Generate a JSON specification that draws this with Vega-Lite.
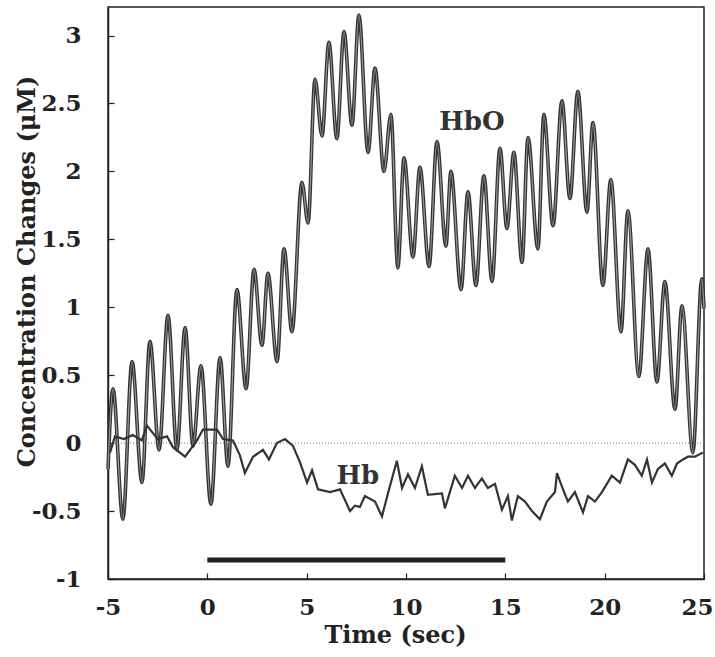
{
  "$schema": "https://vega.github.io/schema/vega-lite/v6.json",
  "width": 596,
  "height": 572,
  "autosize": {"type": "none"},
  "padding": {"left": 108, "top": 7, "right": 11, "bottom": 78},
  "background": "#ffffff",
  "config": {
    "view": {"stroke": "#222", "strokeWidth": 1.5},
    "font": "DejaVu Serif"
  },
  "datasets": {
    "hbo": [
      {"t": -5.0, "v": -0.19}, {"t": -4.75, "v": 0.40}, {"t": -4.25, "v": -0.56}, {"t": -3.79, "v": 0.60},
      {"t": -3.29, "v": -0.29}, {"t": -2.89, "v": 0.75}, {"t": -2.43, "v": -0.05}, {"t": -1.98, "v": 0.94},
      {"t": -1.53, "v": -0.05}, {"t": -1.12, "v": 0.85}, {"t": -0.72, "v": -0.02}, {"t": -0.32, "v": 0.57},
      {"t": 0.18, "v": -0.45}, {"t": 0.64, "v": 0.63}, {"t": 1.04, "v": -0.17}, {"t": 1.49, "v": 1.13},
      {"t": 1.95, "v": 0.40}, {"t": 2.35, "v": 1.28}, {"t": 2.75, "v": 0.72}, {"t": 3.05, "v": 1.25},
      {"t": 3.51, "v": 0.60}, {"t": 3.86, "v": 1.43}, {"t": 4.26, "v": 0.82}, {"t": 4.76, "v": 1.92},
      {"t": 5.07, "v": 1.62}, {"t": 5.42, "v": 2.68}, {"t": 5.77, "v": 2.26}, {"t": 6.12, "v": 2.95},
      {"t": 6.52, "v": 2.24}, {"t": 6.88, "v": 3.03}, {"t": 7.28, "v": 2.34}, {"t": 7.63, "v": 3.15},
      {"t": 8.09, "v": 2.14}, {"t": 8.44, "v": 2.76}, {"t": 8.89, "v": 2.00}, {"t": 9.24, "v": 2.42},
      {"t": 9.59, "v": 1.29}, {"t": 9.90, "v": 2.10}, {"t": 10.35, "v": 1.37}, {"t": 10.70, "v": 2.03},
      {"t": 11.16, "v": 1.30}, {"t": 11.56, "v": 2.22}, {"t": 12.01, "v": 1.45}, {"t": 12.26, "v": 2.00},
      {"t": 12.77, "v": 1.13}, {"t": 13.12, "v": 1.85}, {"t": 13.52, "v": 1.16}, {"t": 13.92, "v": 1.97},
      {"t": 14.33, "v": 1.19}, {"t": 14.73, "v": 2.17}, {"t": 15.08, "v": 1.58}, {"t": 15.43, "v": 2.14},
      {"t": 15.84, "v": 1.33}, {"t": 16.14, "v": 2.25}, {"t": 16.64, "v": 1.43}, {"t": 16.94, "v": 2.42},
      {"t": 17.40, "v": 1.60}, {"t": 17.85, "v": 2.52}, {"t": 18.25, "v": 1.80}, {"t": 18.65, "v": 2.59},
      {"t": 19.11, "v": 1.70}, {"t": 19.41, "v": 2.36}, {"t": 19.91, "v": 1.16}, {"t": 20.31, "v": 1.94},
      {"t": 20.82, "v": 0.82}, {"t": 21.17, "v": 1.71}, {"t": 21.72, "v": 0.49}, {"t": 22.18, "v": 1.43},
      {"t": 22.63, "v": 0.45}, {"t": 23.03, "v": 1.19}, {"t": 23.54, "v": 0.25}, {"t": 23.89, "v": 1.01},
      {"t": 24.44, "v": -0.07}, {"t": 24.89, "v": 1.21}, {"t": 25.0, "v": 0.99}
    ],
    "hb": [
      {"t": -4.9, "v": -0.07}, {"t": -4.65, "v": 0.05}, {"t": -4.2, "v": 0.03}, {"t": -3.75, "v": 0.06},
      {"t": -3.3, "v": 0.02}, {"t": -3.04, "v": 0.13}, {"t": -2.5, "v": 0.03}, {"t": -2.03, "v": 0.05},
      {"t": -1.73, "v": -0.03}, {"t": -1.12, "v": -0.10}, {"t": -0.52, "v": 0.02}, {"t": -0.22, "v": 0.10},
      {"t": 0.49, "v": 0.10}, {"t": 0.79, "v": 0.03}, {"t": 1.29, "v": 0.02}, {"t": 1.64, "v": -0.09},
      {"t": 1.89, "v": -0.22}, {"t": 2.3, "v": -0.10}, {"t": 2.8, "v": -0.05}, {"t": 3.1, "v": -0.12},
      {"t": 3.5, "v": 0.0}, {"t": 3.91, "v": 0.03}, {"t": 4.31, "v": -0.02}, {"t": 4.66, "v": -0.14},
      {"t": 5.02, "v": -0.29}, {"t": 5.27, "v": -0.20}, {"t": 5.57, "v": -0.34}, {"t": 6.17, "v": -0.36},
      {"t": 6.68, "v": -0.34}, {"t": 7.18, "v": -0.50}, {"t": 7.43, "v": -0.46}, {"t": 7.68, "v": -0.47},
      {"t": 7.93, "v": -0.39}, {"t": 8.44, "v": -0.43}, {"t": 8.79, "v": -0.54}, {"t": 9.09, "v": -0.37},
      {"t": 9.54, "v": -0.13}, {"t": 9.80, "v": -0.33}, {"t": 10.10, "v": -0.23}, {"t": 10.45, "v": -0.33},
      {"t": 10.80, "v": -0.17}, {"t": 11.10, "v": -0.38}, {"t": 11.81, "v": -0.37}, {"t": 11.96, "v": -0.48},
      {"t": 12.46, "v": -0.24}, {"t": 12.82, "v": -0.33}, {"t": 13.12, "v": -0.24}, {"t": 13.47, "v": -0.33},
      {"t": 13.82, "v": -0.26}, {"t": 14.12, "v": -0.33}, {"t": 14.48, "v": -0.30}, {"t": 14.83, "v": -0.49},
      {"t": 15.13, "v": -0.39}, {"t": 15.33, "v": -0.57}, {"t": 15.63, "v": -0.39}, {"t": 15.99, "v": -0.43},
      {"t": 16.34, "v": -0.50}, {"t": 16.74, "v": -0.56}, {"t": 17.09, "v": -0.43}, {"t": 17.50, "v": -0.36},
      {"t": 17.60, "v": -0.22}, {"t": 17.85, "v": -0.32}, {"t": 18.15, "v": -0.43}, {"t": 18.50, "v": -0.36},
      {"t": 18.91, "v": -0.51}, {"t": 19.16, "v": -0.39}, {"t": 19.51, "v": -0.43}, {"t": 19.86, "v": -0.36},
      {"t": 20.36, "v": -0.24}, {"t": 20.77, "v": -0.29}, {"t": 21.17, "v": -0.12}, {"t": 21.52, "v": -0.16},
      {"t": 21.87, "v": -0.24}, {"t": 22.13, "v": -0.12}, {"t": 22.38, "v": -0.29}, {"t": 22.68, "v": -0.19},
      {"t": 23.03, "v": -0.15}, {"t": 23.38, "v": -0.24}, {"t": 23.64, "v": -0.15}, {"t": 23.94, "v": -0.12},
      {"t": 24.19, "v": -0.10}, {"t": 24.54, "v": -0.10}, {"t": 24.94, "v": -0.07}
    ],
    "zero": [{"v": 0}],
    "stim": [{"t0": 0, "t1": 15, "v": -0.86}],
    "labels": [
      {"name": "HbO", "t": 13.32, "v": 2.36},
      {"name": "Hb", "t": 7.58, "v": -0.24}
    ]
  },
  "layer": [
    {
      "data": {"name": "zero"},
      "mark": {"type": "rule", "color": "#777", "strokeWidth": 1, "strokeDash": [1, 2]},
      "encoding": {
        "y": {
          "field": "v", "type": "quantitative",
          "scale": {"domain": [-1, 3.21], "nice": false, "zero": false},
          "axis": {
            "values": [-1, -0.5, 0, 0.5, 1, 1.5, 2, 2.5, 3],
            "labelExpr": "'' + datum.value",
            "grid": false,
            "domainColor": "#222", "domainWidth": 1.5,
            "tickColor": "#222", "tickSize": -6, "tickWidth": 1.2,
            "labelPadding": 33,
            "labelFont": "DejaVu Serif", "labelFontWeight": "bold", "labelFontSize": 23, "labelColor": "#222",
            "title": "Concentration Changes (μM)",
            "titleFont": "DejaVu Serif", "titleFontWeight": "bold", "titleFontSize": 24, "titleColor": "#222",
            "titleAngle": -90, "titleX": -81, "titleY": 264, "titleAlign": "center", "titleBaseline": "middle"
          }
        }
      }
    },
    {
      "data": {"name": "stim"},
      "mark": {"type": "rule", "color": "#222", "strokeWidth": 5},
      "encoding": {
        "x": {"field": "t0", "type": "quantitative"},
        "x2": {"field": "t1"},
        "y": {"field": "v", "type": "quantitative"}
      }
    },
    {
      "data": {"name": "hbo"},
      "mark": {"type": "line", "color": "#333", "strokeWidth": 3.6, "interpolate": "monotone"},
      "encoding": {
        "x": {
          "field": "t", "type": "quantitative",
          "scale": {"domain": [-5, 25], "nice": false, "zero": false},
          "axis": {
            "values": [-5, 0, 5, 10, 15, 20, 25],
            "labelExpr": "'' + datum.value",
            "grid": false,
            "domainColor": "#222", "domainWidth": 1.5,
            "tickColor": "#222", "tickSize": -6, "tickWidth": 1.2,
            "labelPadding": 23,
            "labelFont": "DejaVu Serif", "labelFontWeight": "bold", "labelFontSize": 23, "labelColor": "#222",
            "labelFlush": false,
            "labelOffset": {"condition": {"test": "datum.value == 25", "value": -7}, "value": 0},
            "title": "Time (sec)",
            "titleFont": "DejaVu Serif", "titleFontWeight": "bold", "titleFontSize": 24, "titleColor": "#222",
            "titleX": 287, "titleY": 56, "titleAlign": "center", "titleBaseline": "middle"
          }
        },
        "y": {"field": "v", "type": "quantitative"}
      }
    },
    {
      "data": {"name": "hbo"},
      "mark": {"type": "line", "color": "#9a9a9a", "strokeWidth": 1.2, "interpolate": "monotone"},
      "encoding": {
        "x": {"field": "t", "type": "quantitative"},
        "y": {"field": "v", "type": "quantitative"}
      }
    },
    {
      "data": {"name": "hb"},
      "mark": {"type": "line", "color": "#333", "strokeWidth": 2.2},
      "encoding": {
        "x": {"field": "t", "type": "quantitative"},
        "y": {"field": "v", "type": "quantitative"}
      }
    },
    {
      "data": {"name": "labels"},
      "mark": {"type": "text", "font": "DejaVu Serif", "fontWeight": "bold", "fontSize": 26, "color": "#333", "align": "center", "baseline": "middle"},
      "encoding": {
        "x": {"field": "t", "type": "quantitative"},
        "y": {"field": "v", "type": "quantitative"},
        "text": {"field": "name"}
      }
    }
  ]
}
